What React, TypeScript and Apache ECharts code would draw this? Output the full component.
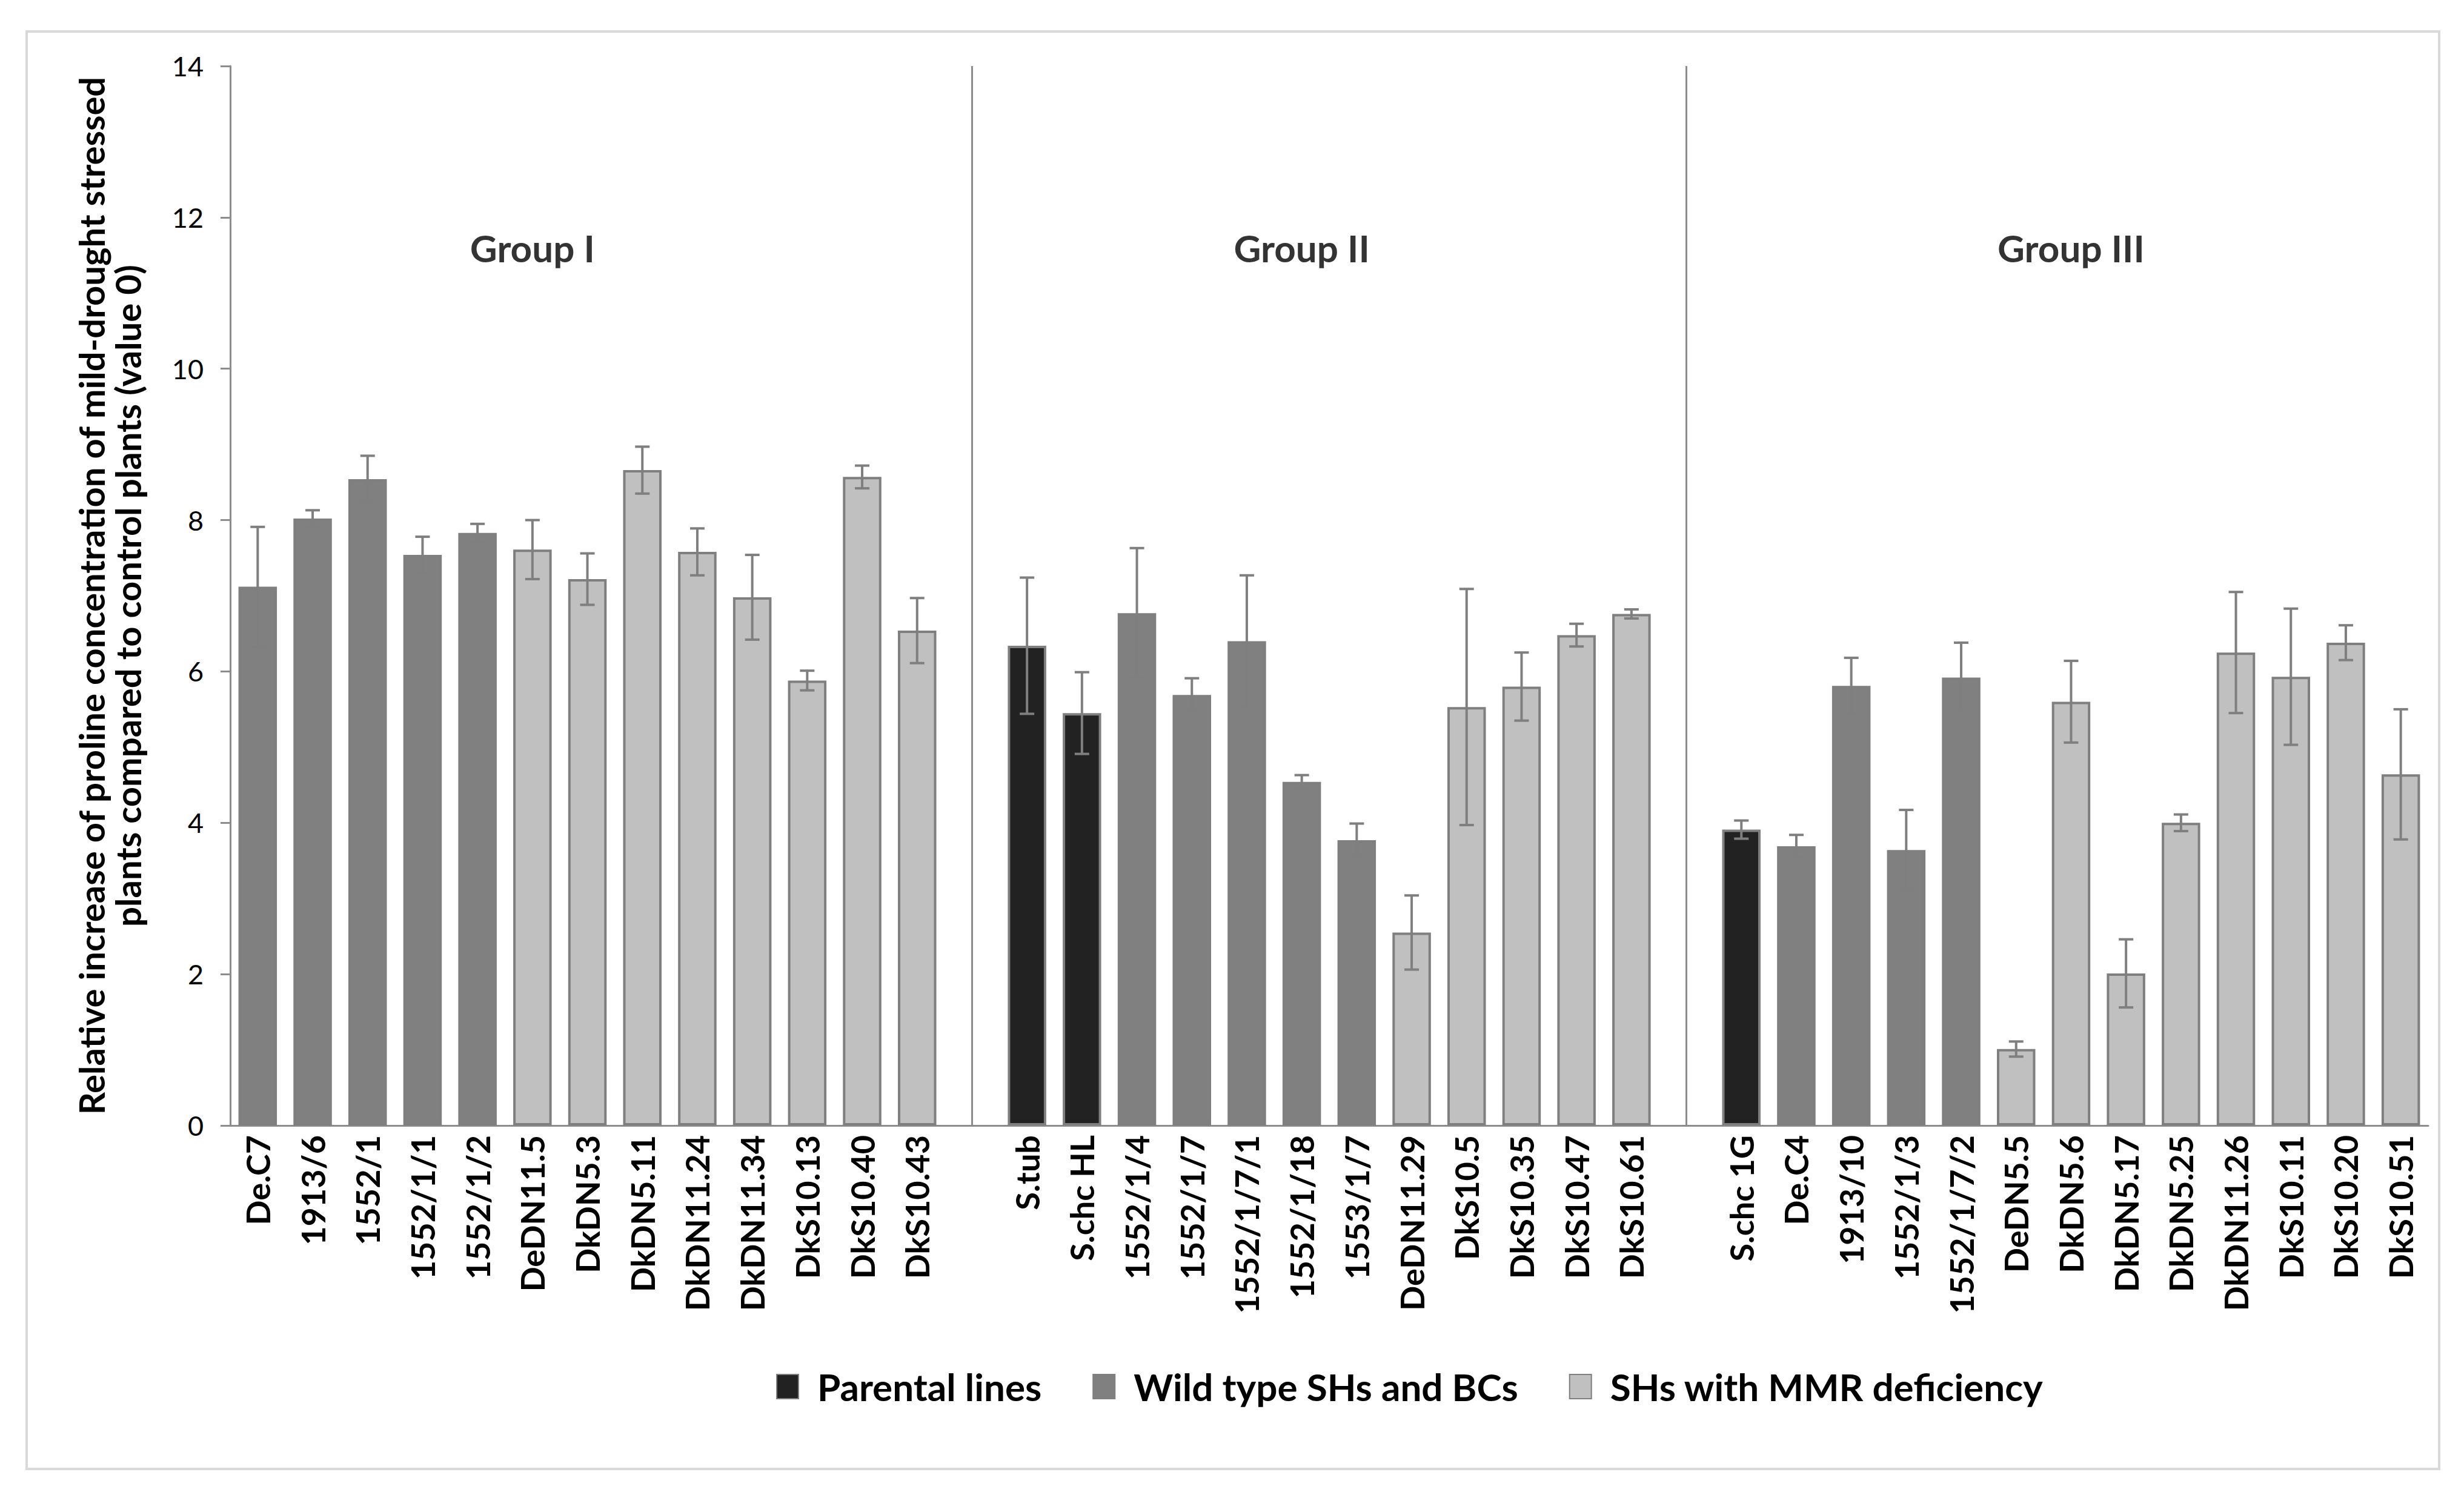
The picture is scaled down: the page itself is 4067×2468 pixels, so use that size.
import React, { useEffect, useRef } from "react";
import * as echarts from "echarts";

// ---- data ----
const groupICategories = ["De.C7", "1913/6", "1552/1", "1552/1/1", "1552/1/2", "DeDN11.5", "DkDN5.3", "DkDN5.11", "DkDN11.24", "DkDN11.34", "DkS10.13", "DkS10.40", "DkS10.43"];
const groupIValues = [7.12, 8.02, 8.54, 7.54, 7.83, 7.61, 7.22, 8.66, 7.58, 6.98, 5.88, 8.57, 6.54];
const groupIErrors = [0.79, 0.11, 0.31, 0.24, 0.12, 0.39, 0.34, 0.31, 0.31, 0.56, 0.13, 0.15, 0.43];
const groupITypes = ["W", "W", "W", "W", "W", "M", "M", "M", "M", "M", "M", "M", "M"];

const groupIICategories = ["S.tub", "S.chc HL", "1552/1/4", "1552/1/7", "1552/1/7/1", "1552/1/18", "1553/1/7", "DeDN11.29", "DkS10.5", "DkS10.35", "DkS10.47", "DkS10.61"];
const groupIIValues = [6.34, 5.45, 6.77, 5.69, 6.40, 4.54, 3.77, 2.55, 5.53, 5.80, 6.48, 6.76];
const groupIIErrors = [0.9, 0.54, 0.86, 0.22, 0.87, 0.09, 0.22, 0.49, 1.56, 0.45, 0.15, 0.06];
const groupIITypes = ["P", "P", "W", "W", "W", "W", "W", "M", "M", "M", "M", "M"];

const groupIIICategories = ["S.chc 1G", "De.C4", "1913/10", "1552/1/3", "1552/1/7/2", "DeDN5.5", "DkDN5.6", "DkDN5.17", "DkDN5.25", "DkDN11.26", "DkS10.11", "DkS10.20", "DkS10.51"];
const groupIIIValues = [3.91, 3.69, 5.81, 3.64, 5.92, 1.01, 5.60, 2.01, 4.00, 6.25, 5.93, 6.38, 4.64];
const groupIIIErrors = [0.12, 0.15, 0.37, 0.53, 0.46, 0.10, 0.54, 0.45, 0.11, 0.80, 0.90, 0.23, 0.86];
const groupIIITypes = ["P", "W", "W", "W", "W", "M", "M", "M", "M", "M", "M", "M", "M"];

const groupLabels = ["Group I", "Group II", "Group III"];
const groupLabelValue = 11.6;
const seriesNames = { P: "Parental lines", W: "Wild type SHs and BCs", M: "SHs with MMR deficiency" };
const yTitle = "Relative increase of proline concentration of mild-drought stressed\nplants compared to control plants (value 0)";

// ---- build combined arrays (one empty category between groups) ----
const categories = [...groupICategories, " ", ...groupIICategories, "  ", ...groupIIICategories];
const values: (number | null)[] = [...groupIValues, null, ...groupIIValues, null, ...groupIIIValues];
const errors: (number | null)[] = [...groupIErrors, null, ...groupIIErrors, null, ...groupIIIErrors];
const types: (string | null)[] = [...groupITypes, null, ...groupIITypes, null, ...groupIIITypes];
const gapIndices = [groupICategories.length, groupICategories.length + 1 + groupIICategories.length];
const groupCenterIndices = [5, 19, 33];

const FONT = "Lato";
const GRAY = "#7f7f7f";

export default function App() {
  const ref = useRef<HTMLDivElement>(null);
  useEffect(() => {
    document.body.style.margin = "0";
    if (!ref.current) return;
    const chart = echarts.init(ref.current, undefined, { renderer: "svg" });

    const barSeries = (key: "P" | "W" | "M", color: string) => ({
      name: seriesNames[key],
      type: "bar",
      stack: "all",
      barWidth: "70%",
      itemStyle: { color, borderColor: GRAY, borderWidth: 4 },
      data: values.map((v, i) => (types[i] === key ? v : null)),
      z: 2,
    });

    const p = barSeries("P", "#222222");
    const w = barSeries("W", "#808080");
    const m = barSeries("M", "#c0c0c0");
    (w as any).markLine = {
      silent: true,
      symbol: "none",
      label: { show: false },
      lineStyle: { color: "#8c8c8c", width: 3, type: "solid" },
      data: gapIndices.map((g) => ({ xAxis: g })),
    };

    const errData = values
      .map((v, i) => (v == null ? null : [i, v, errors[i]]))
      .filter((d) => d != null);

    const option: any = {
      animation: false,
      backgroundColor: "#ffffff",
      textStyle: { fontFamily: FONT },
      graphic: [
        {
          type: "rect",
          silent: true,
          z: -10,
          shape: { x: 44, y: 52, width: 3982, height: 2373 },
          style: { fill: "none", stroke: "#d9d9d9", lineWidth: 4 },
        },
      ],
      grid: { left: 380, right: 59, top: 109, bottom: 610 },
      legend: {
        data: [seriesNames.P, seriesNames.W, seriesNames.M],
        left: 1276,
        top: 2253,
        icon: "rect",
        itemWidth: 36,
        itemHeight: 40,
        itemGap: 84,
        textStyle: { fontFamily: FONT, fontSize: 62, fontWeight: "bold", color: "#000", padding: [0, 0, 0, 26] },
      },
      xAxis: {
        type: "category",
        data: categories,
        axisTick: { show: false },
        axisLine: { lineStyle: { color: "#8c8c8c", width: 3 } },
        axisLabel: { rotate: 90, interval: 0, fontSize: 54, fontWeight: "bold", color: "#000", fontFamily: FONT, margin: 16 },
      },
      yAxis: {
        type: "value",
        min: 0,
        max: 14,
        interval: 2,
        splitLine: { show: false },
        axisLine: { show: true, lineStyle: { color: "#8c8c8c", width: 3 } },
        axisTick: { show: true, length: 16, lineStyle: { color: "#8c8c8c", width: 3 } },
        axisLabel: { fontSize: 45, color: "#000", fontFamily: FONT, margin: 44 },
        name: yTitle,
        nameLocation: "middle",
        nameRotate: 90,
        nameGap: 140,
        nameTextStyle: { fontSize: 58, fontWeight: "bold", color: "#000", fontFamily: FONT, lineHeight: 60 },
      },
      series: [
        p,
        w,
        m,
        {
          type: "custom",
          name: "err",
          z: 5,
          data: errData,
          renderItem: (params: any, api: any) => {
            const x = api.value(0);
            const v = api.value(1);
            const e = api.value(2);
            const top = api.coord([x, v + e]);
            const bot = api.coord([x, v - e]);
            const hw = 12;
            const style = { stroke: GRAY, lineWidth: 4 };
            return {
              type: "group",
              children: [
                { type: "line", shape: { x1: top[0], y1: top[1], x2: bot[0], y2: bot[1] }, style },
                { type: "line", shape: { x1: top[0] - hw, y1: top[1], x2: top[0] + hw, y2: top[1] }, style },
                { type: "line", shape: { x1: bot[0] - hw, y1: bot[1], x2: bot[0] + hw, y2: bot[1] }, style },
              ],
            };
          },
        },
        {
          type: "scatter",
          name: "groups",
          symbolSize: 1,
          itemStyle: { color: "rgba(0,0,0,0)" },
          data: groupCenterIndices.map((c, i) => ({ value: [c, groupLabelValue], name: groupLabels[i] })),
          label: {
            show: true,
            position: "inside",
            formatter: (d: any) => d.name,
            fontSize: 62,
            fontWeight: "bold",
            color: "#000",
            fontFamily: FONT,
          },
          z: 6,
        },
      ],
    };
    chart.setOption(option);
    return () => chart.dispose();
  }, []);
  return <div ref={ref} style={{ width: 4067, height: 2468 }} />;
}
